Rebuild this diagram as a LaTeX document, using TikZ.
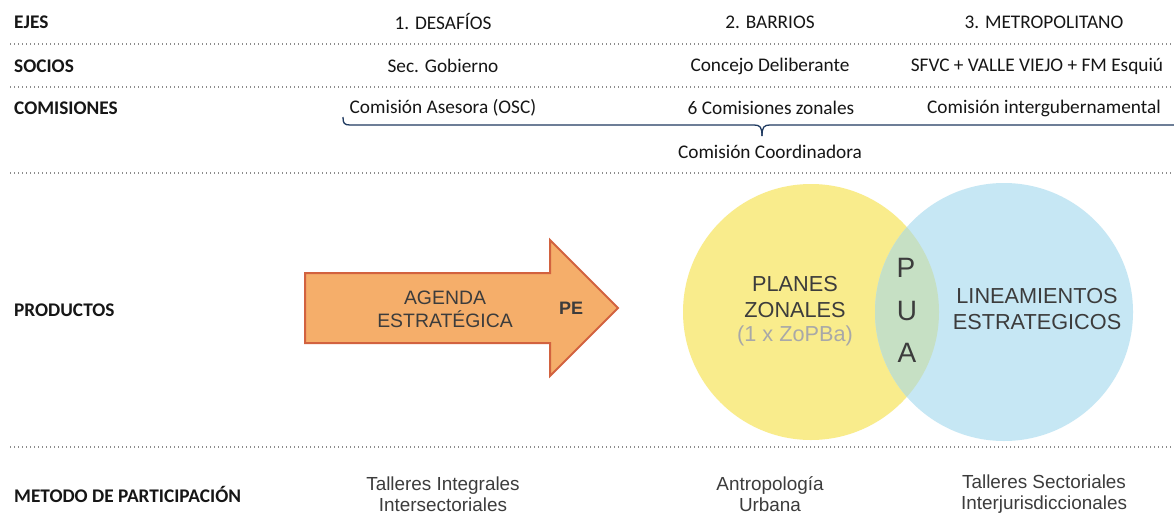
\documentclass[tikz,border=0pt]{standalone}
\usepackage{fontspec}
\setmainfont{Carlito}
\newfontfamily\arial{Liberation Sans}
\definecolor{dotgray}{HTML}{8C8C8C}
\definecolor{hdrtext}{HTML}{161616}
\definecolor{darktext}{HTML}{3C3C3C}
\definecolor{arrowfill}{HTML}{F5AE6A}
\definecolor{arrowedge}{HTML}{D2623F}
\definecolor{yellowc}{HTML}{F9EC8C}
\definecolor{bluec}{HTML}{C6E7F4}
\definecolor{greenc}{HTML}{C6E0C4}
\definecolor{bracec}{HTML}{1F3A60}
\definecolor{lightgraytext}{HTML}{A8A8A8}
\tikzset{
  rowlabel/.style={anchor=west, inner sep=0pt, font=\fontsize{19.3}{22}\selectfont\bfseries, text=hdrtext},
  hdr/.style={inner sep=0pt, font=\fontsize{19.3}{22}\selectfont, text=hdrtext},
  sep/.style={dotgray, line width=1.3pt, dash pattern=on 1.2pt off 2.8pt},
  bodytxt/.style={inner sep=0pt, align=center, font=\arial\fontsize{18.9}{21}\selectfont, text=darktext},
  circtxt/.style={inner sep=0pt, align=center, font=\arial\fontsize{21.7}{26}\selectfont, text=darktext},
  arrtxt/.style={inner sep=0pt, align=center, font=\arial\fontsize{19.4}{23}\selectfont, text=darktext},
  puatxt/.style={inner sep=0pt, font=\arial\fontsize{28}{30}\selectfont, text=darktext},
  bracepath/.style={bracec, line width=1.3pt},
}
\begin{document}
\begin{tikzpicture}[x=1pt, y=-1pt]
\useasboundingbox (0,0) rectangle (1174,514);
\fill[white] (0,0) rectangle (1174,514);

% separators
\draw[sep] (10,44) -- (1174,44);
\draw[sep] (10,87) -- (1174,87);
\draw[sep] (10,173) -- (1174,173);
\draw[sep] (10,447) -- (1174,447);

% row labels
\node[rowlabel] (lEjes) at (14,22) {EJES};
\node[rowlabel] (lSocios) at (14,66) {SOCIOS};
\node[rowlabel] (lCom) at (14,108) {COMISIONES};
\node[rowlabel] (lProd) at (14,310) {PRODUCTOS};
\node[rowlabel] (lMet) at (14,494) {METODO DE PARTICIPACIÓN};

% header rows
\node[hdr] (e1) at (443,22) {1. DESAFÍOS};
\node[hdr] (e2) at (770,22) {2. BARRIOS};
\node[hdr] (e3) at (1044,22) {3. METROPOLITANO};
\node[hdr] (s1) at (443,66) {Sec. Gobierno};
\node[hdr] (s2) at (770,66) {Concejo Deliberante};
\node[hdr] (s3) at (1037,66) {SFVC + VALLE VIEJO + FM Esquiú};
\node[hdr] (c1) at (443,108) {Comisión Asesora (OSC)};
\node[hdr] (c2) at (771,108) {6 Comisiones zonales};
\node[hdr] (c3) at (1044,108) {Comisión intergubernamental};
\node[hdr] (cc) at (770,152) {Comisión Coordinadora};

% brace
\coordinate (bL) at (343,117);
\coordinate (bR) at (1174,125);
\coordinate (bM) at (762,136);
\draw[bracepath] (bL) .. controls (343,123) and (344,125) .. (350,125) -- (754,125)
   .. controls (760,125) and (762,127) .. (bM);
\draw[bracepath] (bR) -- (770,125) .. controls (764,125) and (762,127) .. (bM);

% arrow
\draw[fill=arrowfill, draw=arrowedge, line width=2pt, line join=miter]
  (305,273) -- (550,273) -- (550,240) -- (618,308) -- (550,376) -- (550,343) -- (305,343) -- cycle;
\node[arrtxt] (agenda) at (445,309) {AGENDA\\ESTRATÉGICA};
\node[arrtxt, font=\arial\bfseries\fontsize{18}{22}\selectfont] (pe) at (571,308) {PE};

% circles
\fill[yellowc] (811,312) circle (128);
\fill[bluec] (1004,312) circle (129);
\begin{scope}
  \clip (811,312) circle (128);
  \fill[greenc] (1004,312) circle (129);
\end{scope}
\node[circtxt] (planes) at (795,297) {PLANES\\ZONALES};
\node[circtxt, text=lightgraytext] (zopba) at (795,336) {(1 x ZoPBa)};
\node[puatxt] (pP) at (906,268) {P};
\node[puatxt] (pU) at (907,311) {U};
\node[puatxt] (pA) at (907,353) {A};
\node[circtxt] (linea) at (1037,309) {LINEAMIENTOS\\ESTRATEGICOS};

% bottom row
\node[bodytxt] (m1) at (443,494) {Talleres Integrales\\Intersectoriales};
\node[bodytxt] (m2) at (770,494) {Antropología\\Urbana};
\node[bodytxt] (m3) at (1044,494) {Talleres Sectoriales\\Interjurisdiccionales};
\end{tikzpicture}
\end{document}
